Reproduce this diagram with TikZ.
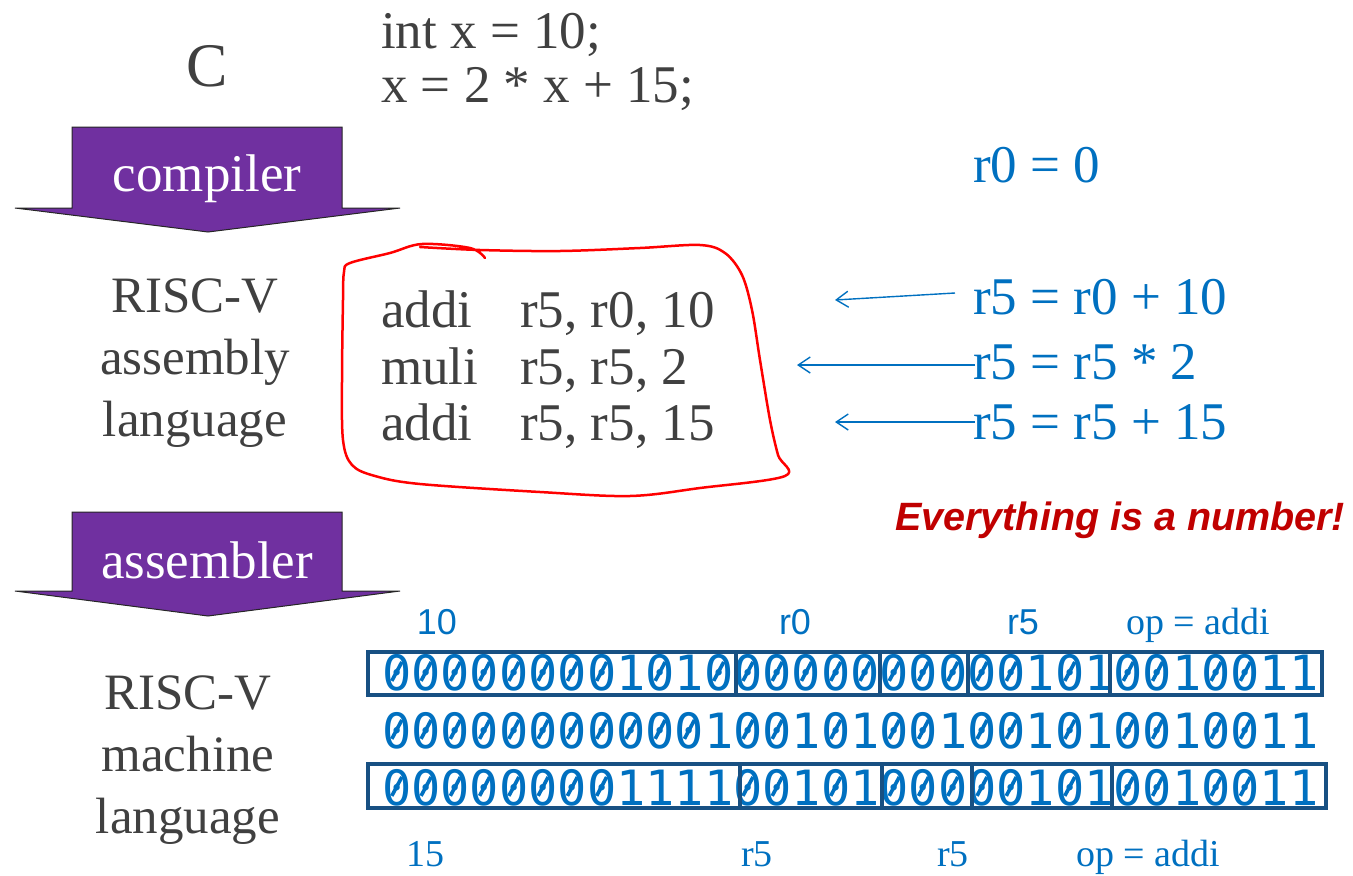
\documentclass[tikz,border=0pt]{standalone}
\usepackage{fontspec}
\usepackage{graphicx}
\setmainfont{Liberation Serif}
\setsansfont{Liberation Sans}
\setmonofont{DejaVu Sans Mono}
\usetikzlibrary{arrows.meta}
\definecolor{gtext}{RGB}{64,64,64}
\definecolor{purp}{RGB}{112,48,160}
\definecolor{bl}{RGB}{0,112,192}
\definecolor{boxbl}{RGB}{24,80,130}
\definecolor{redt}{RGB}{192,0,0}
\newcommand\zs{\ooalign{0\cr\hidewidth\raisebox{0.17em}{\rotatebox{62}{\rule{0.44em}{0.075em}}}\hidewidth\cr}}
\def\binstr#1{\binloop#1\relax}
\def\binloop#1{\ifx#1\relax\else\ifx#10\zs\else#1\fi\expandafter\binloop\fi}
\tikzset{
  bigtext/.style={font=\fontsize{53}{53}\selectfont, text=gtext, inner sep=0pt, anchor=base west},
  sidetext/.style={font=\fontsize{51}{62}\selectfont, text=gtext, inner sep=0pt, align=center},
  eqtext/.style={font=\fontsize{53}{53}\selectfont, text=bl, inner sep=0pt, anchor=base west},
  bintext/.style={font=\ttfamily\fontsize{48.6}{50}\selectfont, text=bl, inner sep=0pt, anchor=base west},
  fieldbox/.style={draw=boxbl, line width=3.5pt},
  lblsans/.style={font=\sffamily\fontsize{36}{36}\selectfont, text=bl, inner sep=0pt, anchor=base},
  lblserif/.style={font=\fontsize{38}{38}\selectfont, text=bl, inner sep=0pt, anchor=base},
  bigarrow/.style={fill=purp, draw=black!85, line width=1pt, line join=miter},
  arrowlabel/.style={font=\fontsize{53}{53}\selectfont, text=white, inner sep=0pt},
  ptr/.style={draw=bl, line width=1.4pt, -{Straight Barb[length=12pt,width=16pt,line width=1.4pt]}}
}
\begin{document}
\begin{tikzpicture}[x=1pt,y=-1pt]
\useasboundingbox (0,0) rectangle (1353,876);

% C source
\node[font=\fontsize{62}{62}\selectfont, text=gtext, inner sep=0pt, anchor=base] (clang) at (207,86) {C};
\node[bigtext] (csrc1) at (381,48) {int x = 10;};
\node[bigtext] (csrc2) at (381,102) {x = 2 * x + 15;};

% compiler arrow
\draw[bigarrow] (72,127) -- (342,127) -- (342,208) -- (400,208) -- (208,232) -- (15,208) -- (72,208) -- cycle;
\node[arrowlabel] (compiler) at (207,179) {compiler};

% assembler arrow
\draw[bigarrow] (72,512) -- (342,512) -- (342,591) -- (400,591) -- (208,616) -- (15,591) -- (72,591) -- cycle;
\node[arrowlabel] (assembler) at (207,560) {assembler};

% side labels
\node[sidetext] (asmlabel) at (195,363) {RISC-V\\assembly\\language};
\node[sidetext] (mchlabel) at (188,760) {RISC-V\\machine\\language};

% assembly code
\node[bigtext] (op1) at (381,327) {addi};
\node[bigtext] (ar1) at (520,327) {r5, r0, 10};
\node[bigtext] (op2) at (381,384) {muli};
\node[bigtext] (ar2) at (520,384) {r5, r5, 2};
\node[bigtext] (op3) at (381,440) {addi};
\node[bigtext] (ar3) at (520,440) {r5, r5, 15};

% red freehand outline
\draw[red, line width=2.5pt, line cap=round, line join=round] plot[smooth, tension=0.55] coordinates {
 (420,247) (480,250) (560,251) (640,248) (700,245) (725,253) (742,275) (752,310) (760,360)
 (770,420) (778,455) (785,476) (700,488) (630,496) (540,492) (420,484) (375,476) (352,465)
 (343,440) (342,380) (343,300) (344,272) (350,263) (390,253) (422,244) (470,248) (485,258)};

% blue equations
\node[eqtext] (eq0) at (973,182) {r0 = 0};
\node[eqtext] (eq1) at (973,314) {r5 = r0 + 10};
\node[eqtext] (eq2) at (973,379) {r5 = r5 * 2};
\node[eqtext] (eq3) at (973,439) {r5 = r5 + 15};

\coordinate (t1) at (835,300);
\coordinate (t2) at (797,365);
\coordinate (t3) at (835,422);
\draw[ptr] ([xshift=-18pt,yshift=21pt]eq1.base west) -- (t1);
\draw[ptr] ([xshift=2pt,yshift=14pt]eq2.base west) -- (t2);
\draw[ptr] ([xshift=2pt,yshift=17pt]eq3.base west) -- (t3);

% Everything is a number
\node[font=\sffamily\bfseries\itshape\fontsize{39.5}{40}\selectfont, text=redt, inner sep=0pt, anchor=base west] (motto) at (895,530) {Everything is a number!};

% labels above
\node[lblsans] (l10) at (437,634) {10};
\node[lblsans] (lr0) at (795,634) {r0};
\node[lblsans] (lr5a) at (1023,634) {r5};
\node[lblserif] (lopa) at (1198,634) {op = addi};

% binary rows
\node[bintext] (bin1) at (382,690) {\binstr{00000000101000000000001010010011}};
\node[bintext] (bin2) at (382,748) {\binstr{00000000000100101001001010010011}};
\node[bintext] (bin3) at (382,805) {\binstr{00000000111100101000001010010011}};

% field boxes row 1
\draw[fieldbox] (368,652) rectangle (736,695);
\draw[fieldbox] (736,652) rectangle (880,695);
\draw[fieldbox] (880,652) rectangle (968,695);
\draw[fieldbox] (968,652) rectangle (1110,695);
\draw[fieldbox] (1110,652) rectangle (1322,695);
% field boxes row 3
\draw[fieldbox] (368,764) rectangle (740,808);
\draw[fieldbox] (740,764) rectangle (882,808);
\draw[fieldbox] (882,764) rectangle (972,808);
\draw[fieldbox] (972,764) rectangle (1112,808);
\draw[fieldbox] (1112,764) rectangle (1326,808);

% labels below
\node[lblserif] (l15) at (425,866) {15};
\node[lblserif] (lr5b) at (757,866) {r5};
\node[lblserif] (lr5c) at (953,866) {r5};
\node[lblserif] (lopb) at (1148,866) {op = addi};
\end{tikzpicture}
\end{document}
